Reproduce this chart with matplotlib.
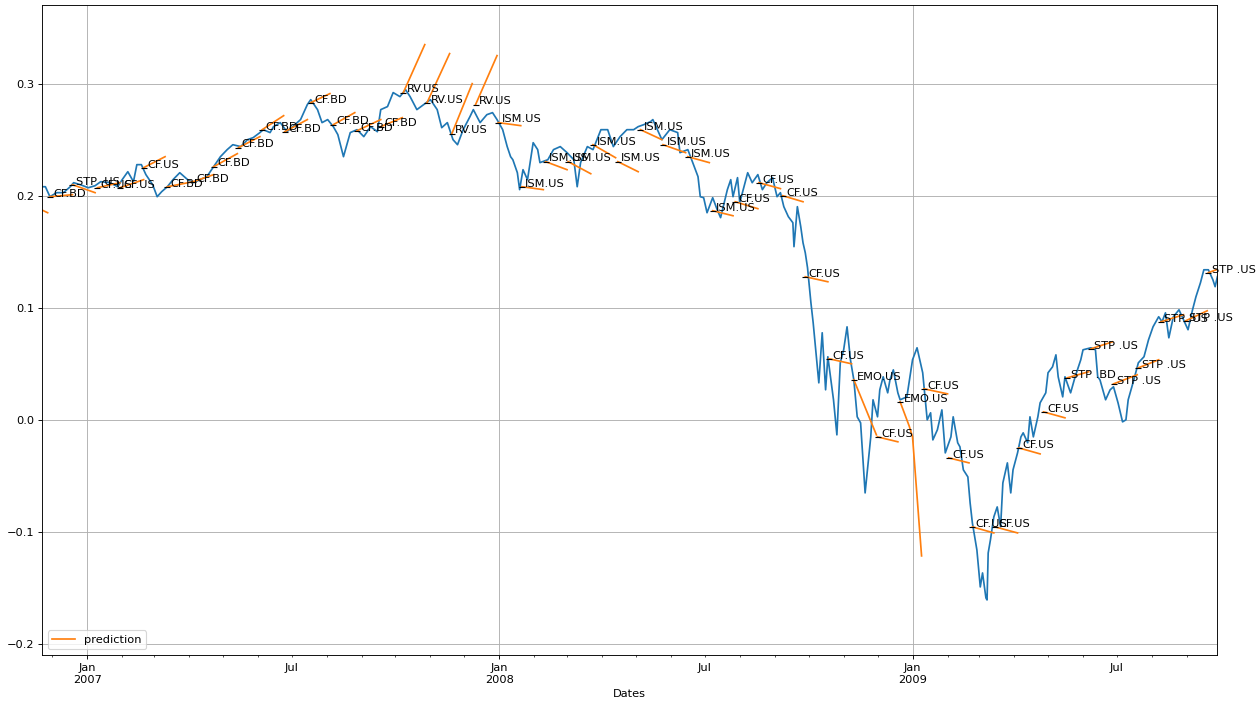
import matplotlib
matplotlib.use("Agg")
import matplotlib.pyplot as plt
import matplotlib.dates as mdates
from matplotlib.ticker import FuncFormatter
import pandas as pd

# blue series (portfolio value)
dates = [
    "2006-11-22", "2006-11-25", "2006-11-29", "2006-12-05", "2006-12-11", "2006-12-17", "2006-12-20", "2006-12-26",
    "2007-01-02", "2007-01-08", "2007-01-13", "2007-01-21", "2007-01-28", "2007-02-01", "2007-02-06", "2007-02-11", "2007-02-14", "2007-02-18", "2007-02-22", "2007-02-28",
    "2007-03-04", "2007-03-08", "2007-03-13", "2007-03-18", "2007-03-24", "2007-03-31", "2007-04-05", "2007-04-11", "2007-04-17", "2007-04-23", "2007-04-29",
    "2007-05-05", "2007-05-10", "2007-05-17", "2007-05-23", "2007-05-28", "2007-06-03", "2007-06-06", "2007-06-12", "2007-06-15", "2007-06-21", "2007-06-27",
    "2007-07-02", "2007-07-09", "2007-07-15", "2007-07-18", "2007-07-24", "2007-07-28", "2007-08-02", "2007-08-07", "2007-08-11",
    "2007-08-16", "2007-08-22", "2007-08-28", "2007-09-03", "2007-09-09", "2007-09-15", "2007-09-18", "2007-09-24", "2007-09-29", "2007-10-05", "2007-10-10", "2007-10-14", "2007-10-20", "2007-10-26", "2007-11-01", "2007-11-07", "2007-11-11", "2007-11-16", "2007-11-21", "2007-11-25", "2007-11-30", "2007-12-06", "2007-12-09", "2007-12-15", "2007-12-21", "2007-12-26", "2007-12-30",
    "2008-01-04", "2008-01-08", "2008-01-11", "2008-01-13", "2008-01-17", "2008-01-19", "2008-01-22", "2008-01-26", "2008-01-31", "2008-02-04", "2008-02-06", "2008-02-13", "2008-02-18", "2008-02-24", "2008-03-01", "2008-03-07", "2008-03-10", "2008-03-13", "2008-03-19", "2008-03-24", "2008-03-31", "2008-04-06", "2008-04-11", "2008-04-17", "2008-04-23", "2008-04-29", "2008-05-03",
    "2008-05-08", "2008-05-14", "2008-05-16", "2008-05-24", "2008-05-31", "2008-06-07", "2008-06-09", "2008-06-16", "2008-06-21", "2008-06-25", "2008-06-27", "2008-06-30", "2008-07-03", "2008-07-08", "2008-07-12", "2008-07-15", "2008-07-21", "2008-07-24", "2008-07-26", "2008-07-30",
    "2008-08-01", "2008-08-08", "2008-08-12", "2008-08-17", "2008-08-21", "2008-08-25", "2008-08-30", "2008-09-03", "2008-09-06", "2008-09-09", "2008-09-13", "2008-09-17", "2008-09-18", "2008-09-21", "2008-09-24", "2008-09-26", "2008-09-28", "2008-09-30",
    "2008-10-03", "2008-10-05", "2008-10-07", "2008-10-10", "2008-10-13", "2008-10-16", "2008-10-18", "2008-10-23", "2008-10-26", "2008-10-29", "2008-11-01", "2008-11-04", "2008-11-07", "2008-11-10", "2008-11-13", "2008-11-16", "2008-11-20", "2008-11-25", "2008-11-27",
    "2008-12-01", "2008-12-03", "2008-12-06", "2008-12-10", "2008-12-12", "2008-12-15", "2008-12-19", "2008-12-21", "2008-12-27", "2009-01-01", "2009-01-05", "2009-01-10", "2009-01-14", "2009-01-17", "2009-01-19", "2009-01-23",
    "2009-01-27", "2009-01-30", "2009-02-04", "2009-02-06", "2009-02-10", "2009-02-12", "2009-02-15", "2009-02-19", "2009-02-21", "2009-02-23", "2009-02-27", "2009-03-02", "2009-03-04", "2009-03-07", "2009-03-08", "2009-03-09", "2009-03-11", "2009-03-14", "2009-03-17", "2009-03-20", "2009-03-22", "2009-03-26", "2009-03-29", "2009-03-31",
    "2009-04-04", "2009-04-07", "2009-04-09", "2009-04-13", "2009-04-15", "2009-04-18", "2009-04-22", "2009-04-24", "2009-04-29", "2009-05-01", "2009-05-05", "2009-05-08", "2009-05-10", "2009-05-14", "2009-05-16", "2009-05-21", "2009-05-25", "2009-05-30",
    "2009-06-01", "2009-06-08", "2009-06-12", "2009-06-14", "2009-06-16", "2009-06-21", "2009-06-25", "2009-06-28", "2009-07-02", "2009-07-06", "2009-07-09", "2009-07-11", "2009-07-16", "2009-07-20", "2009-07-25", "2009-07-29",
    "2009-08-02", "2009-08-07", "2009-08-10", "2009-08-13", "2009-08-16", "2009-08-20", "2009-08-25", "2009-08-29", "2009-09-02", "2009-09-06", "2009-09-09", "2009-09-13", "2009-09-16", "2009-09-20", "2009-09-24", "2009-09-26", "2009-09-28",
]
values = [
    0.2080, 0.2080, 0.1991, 0.2027, 0.2027, 0.2080, 0.2116, 0.2098,
    0.2071, 0.2089, 0.2125, 0.2116, 0.2080, 0.2143, 0.2214, 0.2125, 0.2277, 0.2277, 0.2188, 0.2098,
    0.1991, 0.2036, 0.2080, 0.2143, 0.2205, 0.2143, 0.2116, 0.2143, 0.2170, 0.2259, 0.2348,
    0.2411, 0.2455, 0.2438, 0.2500, 0.2518, 0.2563, 0.2589, 0.2563, 0.2616, 0.2652, 0.2571,
    0.2616, 0.2679, 0.2813, 0.2857, 0.2768, 0.2652, 0.2679, 0.2616, 0.2545,
    0.2348, 0.2563, 0.2589, 0.2527, 0.2616, 0.2571, 0.2768, 0.2795, 0.2920, 0.2884, 0.2946, 0.2884, 0.2768, 0.2813, 0.2857, 0.2768, 0.2607, 0.2652, 0.2500, 0.2455, 0.2589, 0.2705, 0.2768, 0.2652, 0.2723, 0.2741, 0.2679,
    0.2589, 0.2438, 0.2348, 0.2321, 0.2205, 0.2054, 0.2232, 0.2143, 0.2473, 0.2411, 0.2295, 0.2321, 0.2411, 0.2438, 0.2384, 0.2321, 0.2080, 0.2295, 0.2438, 0.2411, 0.2589, 0.2589, 0.2438, 0.2527, 0.2589, 0.2589, 0.2616,
    0.2634, 0.2661, 0.2679, 0.2500, 0.2589, 0.2563, 0.2384, 0.2411, 0.2277, 0.2170, 0.1991, 0.1982, 0.1848, 0.1982, 0.1875, 0.1804, 0.2054, 0.2143, 0.1991, 0.2161,
    0.1938, 0.2205, 0.2116, 0.2188, 0.2054, 0.2116, 0.2161, 0.1991, 0.2027, 0.1902, 0.1813, 0.1759, 0.1545, 0.1902, 0.1723, 0.1580, 0.1491, 0.1357,
    0.1045, 0.0866, 0.0652, 0.0330, 0.0777, 0.0268, 0.0563, 0.0179, -0.0134, 0.0509, 0.0625, 0.0830, 0.0536, 0.0357, 0.0027, -0.0027, -0.0652, -0.0152, 0.0179,
    0.0027, 0.0268, 0.0384, 0.0241, 0.0357, 0.0446, 0.0241, 0.0179, 0.0205, 0.0536, 0.0643, 0.0420, 0.0000, 0.0063, -0.0179, -0.0089,
    0.0089, -0.0295, -0.0152, 0.0027, -0.0205, -0.0241, -0.0446, -0.0509, -0.0741, -0.0920, -0.1161, -0.1491, -0.1366, -0.1589, -0.1607, -0.1188, -0.1071, -0.0866, -0.0777, -0.0955, -0.0563, -0.0384, -0.0652, -0.0446,
    -0.0295, -0.0152, -0.0116, -0.0205, 0.0027, -0.0152, 0.0027, 0.0152, 0.0241, 0.0420, 0.0473, 0.0580, 0.0384, 0.0205, 0.0384, 0.0241, 0.0384, 0.0536,
    0.0625, 0.0643, 0.0625, 0.0384, 0.0357, 0.0179, 0.0268, 0.0295, 0.0152, -0.0018, 0.0000, 0.0179, 0.0357, 0.0509, 0.0563, 0.0714,
    0.0830, 0.0920, 0.0875, 0.0955, 0.0732, 0.0920, 0.0982, 0.0893, 0.0804, 0.0982, 0.1098, 0.1223, 0.1339, 0.1339, 0.1250, 0.1188, 0.1277,
]

# prediction segments: label, dates, values
pred_labels = [
    "CF.BD", "CF.BD", "STP .US", "CF.US", "CF.US", "CF.US", "CF.BD", "CF.BD", "CF.BD", "CF.BD",
    "CF.BD", "CF.BD", "CF.BD", "CF.BD", "CF.BD", "CF.BD", "RV.US", "RV.US", "RV.US", "RV.US",
    "ISM.US", "ISM.US", "ISM.US", "ISM.US", "ISM.US", "ISM.US", "ISM.US", "ISM.US", "ISM.US", "ISM.US",
    "CF.US", "CF.US", "CF.US", "CF.US", "CF.US", "EMO.US", "CF.US", "EMO.US", "CF.US", "CF.US",
    "CF.US", "CF.US", "CF.US", "CF.US", "STP .BD", "STP .US", "STP .US", "STP .US", "STP .US", "STP .US", "STP .US",
]
pred_dates = [
    ["2006-11-10", "2006-11-27"], ["2006-11-29", "2006-12-19"], ["2006-12-19", "2007-01-08"], ["2007-01-10", "2007-01-30"],
    ["2007-01-30", "2007-02-20"], ["2007-02-20", "2007-03-11"], ["2007-03-13", "2007-04-05"], ["2007-04-05", "2007-04-23"],
    ["2007-04-23", "2007-05-14"], ["2007-05-15", "2007-06-03"], ["2007-06-05", "2007-06-24"], ["2007-06-25", "2007-07-15"],
    ["2007-07-18", "2007-08-04"], ["2007-08-07", "2007-08-26"], ["2007-08-28", "2007-09-18"], ["2007-09-18", "2007-10-07"],
    ["2007-10-08", "2007-10-27"], ["2007-10-29", "2007-11-18"], ["2007-11-20", "2007-12-08"], ["2007-12-11", "2007-12-30"],
    ["2007-12-31", "2008-01-20"], ["2008-01-21", "2008-02-09"], ["2008-02-11", "2008-03-01"], ["2008-03-02", "2008-03-22"],
    ["2008-03-24", "2008-04-13"], ["2008-04-15", "2008-05-03"], ["2008-05-05", "2008-05-24"], ["2008-05-25", "2008-06-14"],
    ["2008-06-16", "2008-07-05"], ["2008-07-08", "2008-07-26"], ["2008-07-28", "2008-08-17"], ["2008-08-18", "2008-09-06"],
    ["2008-09-08", "2008-09-26"], ["2008-09-28", "2008-10-18"], ["2008-10-19", "2008-11-08"], ["2008-11-10", "2008-11-30"],
    ["2008-12-01", "2008-12-19"], ["2008-12-21", "2008-12-29", "2009-01-01", "2009-01-09"], ["2009-01-11", "2009-02-01"],
    ["2009-02-02", "2009-02-20"], ["2009-02-23", "2009-03-14"], ["2009-03-15", "2009-04-04"], ["2009-04-05", "2009-04-24"],
    ["2009-04-27", "2009-05-16"], ["2009-05-18", "2009-06-06"], ["2009-06-08", "2009-06-27"], ["2009-06-28", "2009-07-19"],
    ["2009-07-20", "2009-08-07"], ["2009-08-09", "2009-08-29"], ["2009-08-31", "2009-09-19"], ["2009-09-20", "2009-10-09"],
]
pred_values = [
    [0.1929, 0.1848], [0.1991, 0.2009], [0.2098, 0.2027], [0.2071, 0.2116],
    [0.2071, 0.2143], [0.2250, 0.2348], [0.2080, 0.2125], [0.2125, 0.2188],
    [0.2259, 0.2375], [0.2429, 0.2527], [0.2589, 0.2714], [0.2571, 0.2679],
    [0.2830, 0.2911], [0.2634, 0.2741], [0.2580, 0.2679], [0.2616, 0.2696],
    [0.2920, 0.3348], [0.2830, 0.3268], [0.2554, 0.3000], [0.2813, 0.3250],
    [0.2652, 0.2625], [0.2080, 0.2054], [0.2304, 0.2232], [0.2304, 0.2196],
    [0.2455, 0.2339], [0.2304, 0.2214], [0.2589, 0.2500], [0.2455, 0.2384],
    [0.2348, 0.2295], [0.1866, 0.1821], [0.1946, 0.1884], [0.2116, 0.2063],
    [0.2000, 0.1946], [0.1277, 0.1232], [0.0545, 0.0500], [0.0357, -0.0134],
    [-0.0152, -0.0196], [0.0161, -0.0054, -0.0152, -0.1214], [0.0277, 0.0232],
    [-0.0339, -0.0384], [-0.0955, -0.1009], [-0.0955, -0.1009], [-0.0250, -0.0304],
    [0.0071, 0.0018], [0.0375, 0.0429], [0.0634, 0.0696], [0.0321, 0.0402],
    [0.0464, 0.0536], [0.0875, 0.0938], [0.0884, 0.0973], [0.1313, 0.1384],
]

DPI = 81.6
fig = plt.figure(figsize=(1260.4 / DPI, 702.4 / DPI), dpi=DPI)
ax = fig.add_axes([42 / 1260, 1 - 655 / 702, 1175 / 1260, 650 / 702])

x = pd.to_datetime(dates)
ax.plot(x, values, color='C0')

for i in range(0, len(pred_labels)):
    px = pd.to_datetime(pred_dates[i])
    lab = 'prediction' if i == 0 else None
    ax.plot(px, pred_values[i], color='C1', label=lab)
    ax.plot(px[:1], pred_values[i][:1], marker='_', color='black', linestyle='none')
    # label sits just right of the start marker
    ax.annotate(pred_labels[i], (px[0], pred_values[i][0]), xytext=(3, 0.5),
                textcoords='offset points')

ax.set_xlim(x[0], x[-1])
ax.set_ylim(-0.2098, 0.3705)

ax.xaxis.set_major_locator(mdates.YearLocator())
ax.xaxis.set_major_formatter(mdates.DateFormatter('%b\n%Y'))
ax.xaxis.set_minor_locator(mdates.MonthLocator())
ax.xaxis.set_minor_formatter(FuncFormatter(
    lambda v, p: 'Jul' if mdates.num2date(v).month == 7 else ''))
ax.tick_params(axis='x', which='minor', pad=5)
for t in ax.get_xticklabels():
    t.set_ha('center')

ax.grid(True)
ax.set_xlabel('Dates')
ax.legend(loc='lower left')

fig.savefig('out.png', dpi=DPI)
